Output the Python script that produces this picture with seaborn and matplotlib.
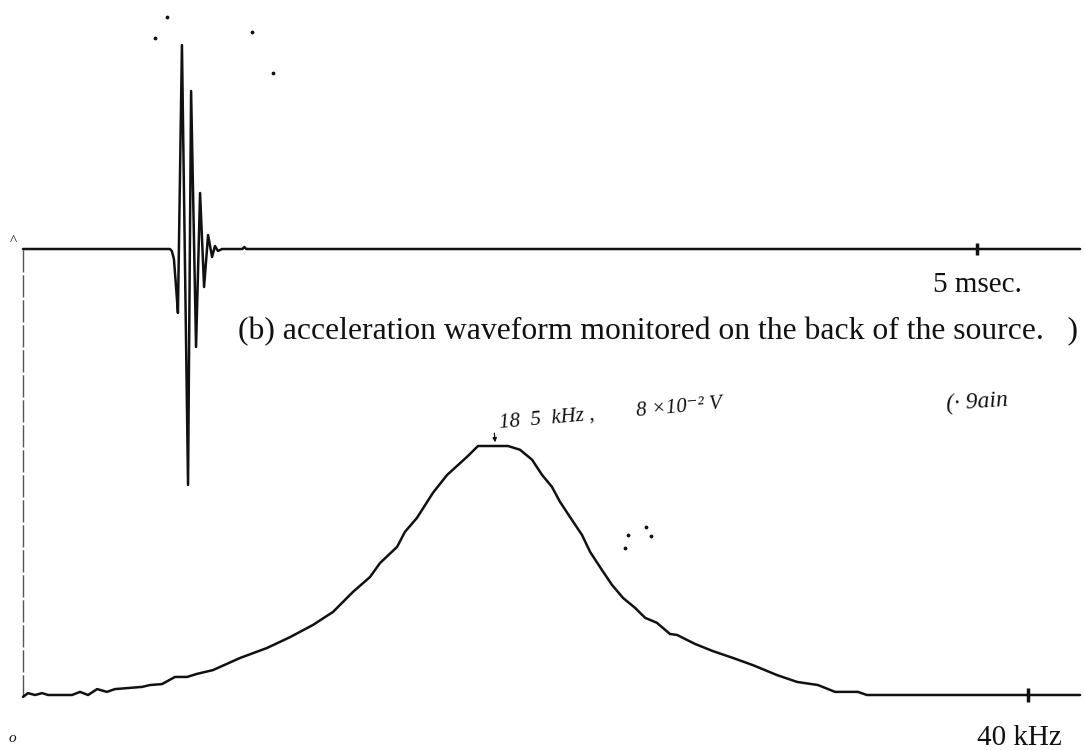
import numpy as np
import pandas as pd
import matplotlib
matplotlib.use("Agg")
import matplotlib.pyplot as plt
import seaborn as sns

# ---- data ----
# (a) acceleration waveform: time in msec, amplitude in arbitrary units
wave_t = [0.000, 0.770, 0.780, 0.791, 0.803, 0.812, 0.833, 0.865, 0.881,
          0.907, 0.928, 0.949, 0.970, 0.991, 1.006, 1.022, 1.043, 1.150,
          1.160, 1.170, 5.540]
wave_a = [0.00, 0.00, -0.02, -0.10, -0.40, -0.64, 2.04, -2.36, 1.58,
          -0.98, 0.56, -0.38, 0.14, -0.08, 0.03, -0.02, 0.00, 0.00,
          0.02, 0.00, 0.00]

# spectrum: frequency in kHz, amplitude in 1e-2 V
spec_f = [0.00, 0.20, 0.48, 0.76, 1.00, 1.95, 2.27, 2.59, 2.95, 3.34, 3.66,
          4.74, 5.05, 5.53, 6.05, 6.53, 6.93, 7.56, 8.64, 9.71, 10.63, 11.54,
          12.34, 13.13, 13.81, 14.21, 14.89, 15.20, 15.68, 16.32, 16.88,
          17.67, 18.11, 19.30, 19.78, 20.26, 20.66, 21.05, 21.37, 21.77,
          22.25, 22.57, 23.04, 23.44, 23.88, 24.36, 24.76, 25.23, 25.75,
          26.03, 26.75, 27.46, 28.26, 29.05, 30.01, 30.81, 31.64, 32.32,
          33.23, 33.59, 42.07]
spec_v = [-0.06, 0.06, 0.00, 0.06, 0.00, 0.00, 0.10, 0.00, 0.19, 0.10, 0.19,
          0.26, 0.32, 0.35, 0.58, 0.58, 0.68, 0.80, 1.19, 1.51, 1.86, 2.25,
          2.67, 3.31, 3.79, 4.24, 4.76, 5.24, 5.69, 6.50, 7.07,
          7.65, 8.00, 8.00, 7.88, 7.56, 7.07, 6.69, 6.21, 5.72,
          5.14, 4.60, 4.02, 3.54, 3.12, 2.80, 2.48, 2.32, 1.96,
          1.93, 1.64, 1.41, 1.19, 0.96, 0.64, 0.42, 0.32, 0.10,
          0.10, 0.00, 0.00]

time_tick = 5.0        # msec
freq_tick = 40.0       # kHz
arrow_f = 18.8         # kHz, handwritten arrow at the peak

time_label = "5 msec."
freq_label = "40 kHz"
caption = "(b) acceleration waveform monitored on the back of the source.   )"
note_peak = "18  5  kHz ,        8 ×10⁻² V"
note_gain = "(· 9ain"

# scan specks
speck_x = [155, 167, 252, 273, 625, 628, 646, 651]
speck_y = [38, 17, 32, 73, 548, 535, 527, 536]

# ---- figure ----
sns.set_theme(style="white")
plt.rcParams["font.family"] = ["Liberation Serif", "DejaVu Serif"]

W, H = 1085, 750
fig = plt.figure(figsize=(W / 100, H / 100), dpi=100)
fig.patch.set_facecolor("white")

x0 = 23.0
t_px = (977 - x0) / time_tick
f_px = (1028 - x0) / freq_tick
wave_base, wave_scale = 249.0, 100.0
spec_base, spec_scale = 695.0, (695 - 446) / 8.0

ax_t = fig.add_axes([0, 0, 1, 1])
ax_t.set_xlim((0 - x0) / t_px, (W - x0) / t_px)
ax_t.set_ylim((wave_base - H) / wave_scale, (wave_base - 0) / wave_scale)
ax_t.axis("off")

ax_f = fig.add_axes([0, 0, 1, 1])
ax_f.set_xlim((0 - x0) / f_px, (W - x0) / f_px)
ax_f.set_ylim((spec_base - H) / spec_scale, (spec_base - 0) / spec_scale)
ax_f.axis("off")
ax_f.patch.set_alpha(0)

ax_px = fig.add_axes([0, 0, 1, 1])
ax_px.set_xlim(0, W)
ax_px.set_ylim(H, 0)
ax_px.axis("off")
ax_px.patch.set_alpha(0)

ink = "#111111"

wave_df = pd.DataFrame({"t": wave_t, "a": wave_a})
sns.lineplot(data=wave_df, x="t", y="a", ax=ax_t, sort=False, estimator=None,
             color=ink, lw=1.8)
# the trace coming up from below at t = 0
ax_t.vlines(0, (wave_base - 697) / wave_scale, 0, color="#555555", lw=1.0,
            linestyles=(0, (16, 2)))
ax_t.vlines(time_tick, -0.06, 0.06, color=ink, lw=2.5)

spec_df = pd.DataFrame({"f": spec_f, "v": spec_v})
sns.lineplot(data=spec_df, x="f", y="v", ax=ax_f, sort=False, estimator=None,
             color=ink, lw=1.8)
ax_f.vlines(freq_tick, -0.22, 0.22, color=ink, lw=2.5)
ax_f.annotate("", xy=(arrow_f, 8.03), xytext=(arrow_f - 0.05, 8.5),
              arrowprops=dict(arrowstyle="-|>", color=ink, lw=0.9,
                              mutation_scale=6))

ax_px.scatter(speck_x, speck_y, s=3, color=ink)

# texts
ax_px.text(933, 292, time_label, ha="left", va="baseline", fontsize=21,
           color=ink)
ax_px.text(238, 339, caption, ha="left", va="baseline", fontsize=22.8,
           color=ink)
ax_px.text(1062, 745, freq_label, ha="right", va="baseline", fontsize=21,
           color=ink)
ax_px.text(500, 428, note_peak, ha="left", va="baseline", fontsize=15,
           style="italic", rotation=5, rotation_mode="anchor", color=ink)
ax_px.text(947, 410, note_gain, ha="left", va="baseline", fontsize=17,
           style="italic", rotation=4, rotation_mode="anchor", color=ink)
ax_px.text(13, 242, "^", ha="center", va="center", fontsize=11, color=ink)
ax_px.text(12, 738, "o", ha="center", va="center", fontsize=11,
           style="italic", color=ink)

fig.savefig("out.png", dpi=100, facecolor="white")
